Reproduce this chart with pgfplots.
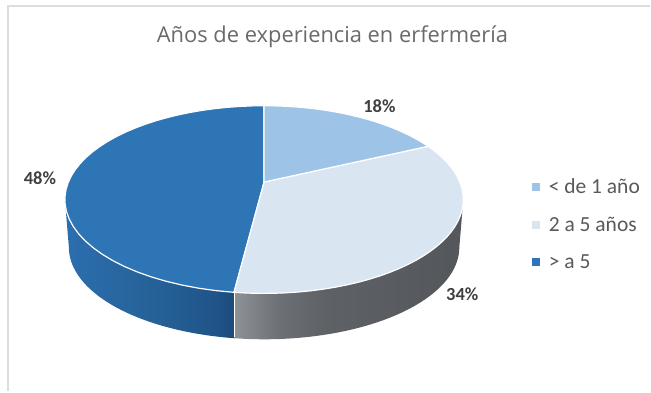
\documentclass[border=0pt]{standalone}
\usepackage{pgfplots}
\pgfplotsset{compat=1.18}
\usepackage{fontspec}
\setmainfont{Carlito}
\newfontfamily\titlefont{Open Sans}

% Shares of the pie, in percent
\def\shareA{18}
\def\shareB{34}
\def\shareC{48}

\definecolor{sliceA}{HTML}{9DC3E6}
\definecolor{sliceB}{HTML}{DAE5F2}
\definecolor{sliceC}{HTML}{2E75B6}
\definecolor{titlegray}{HTML}{6A6A6A}
\definecolor{labelgray}{HTML}{404040}
\definecolor{legendgray}{HTML}{595959}
\definecolor{framegray}{HTML}{DDDDDD}
\definecolor{sideA}{HTML}{2B6EAF}
\definecolor{sideB}{HTML}{266298}
\definecolor{sideC}{HTML}{1F5488}
\definecolor{sideD}{HTML}{1B4A78}
\definecolor{greyA}{HTML}{8E9196}
\definecolor{greyB}{HTML}{6C6F73}
\definecolor{greyC}{HTML}{5E6165}
\definecolor{greyD}{HTML}{53565A}

% Side walls of the disc: horizontal gradients (colours run from 25bp to 75bp)
\pgfdeclarehorizontalshading{sideblue}{100bp}{
  color(0bp)=(sideA); color(25bp)=(sideA); color(50bp)=(sideB); color(70bp)=(sideC); color(75bp)=(sideD); color(100bp)=(sideD)}
\pgfdeclarehorizontalshading{sidegrey}{100bp}{
  color(0bp)=(greyA); color(25bp)=(greyA); color(35bp)=(greyB); color(45bp)=(greyC); color(75bp)=(greyD); color(100bp)=(greyD)}

% Perspective disc: angle t runs clockwise from the top of the rim.
% \rimpoint{t}{scale}{y of centre} appends one point of the rim to \pts.
\def\persp{0.187}
\newcommand\rimpoint[3]{%
  \pgfmathsetmacro\px{264.5+#2*196*sin(#1)/(1+\persp*cos(#1))}%
  \pgfmathsetmacro\py{#3-#2*90.7*cos(#1)/(1+\persp*cos(#1))}%
  \xdef\pts{\pts (\px,\py)}}
% \rimarc{from}{to}{scale}{y of centre} appends 41 points from one angle to another
\newcommand\rimarc[4]{%
  \pgfmathsetmacro\stp{(#2-#1)/40}%
  \foreach \i in {0,...,40}{%
    \pgfmathsetmacro\ang{#1+\i*\stp}%
    \rimpoint{\ang}{#3}{#4}}}
\def\drawpts#1#2{\addplot[#2] coordinates {#1};}

\pgfmathsetmacro\angA{3.6*\shareA}
\pgfmathsetmacro\angB{\angA+3.6*\shareB}
\def\leftrim{259.2}
\def\rightrim{100.8}

% Top faces
\gdef\pts{(264.5,182.3)}\rimarc{0}{\angA}{1}{182.3}\xdef\topA{\pts (264.5,182.3)}
\gdef\pts{(264.5,182.3)}\rimarc{\angA}{\angB}{1}{182.3}\xdef\topB{\pts (264.5,182.3)}
\gdef\pts{(264.5,182.3)}\rimarc{\angB}{360}{1}{182.3}\xdef\topC{\pts (264.5,182.3)}
% Side walls: along the upper rim, then back along the lower rim
\gdef\pts{}\rimarc{\leftrim}{\angB}{1}{182.3}\rimarc{\angB}{\leftrim}{0.98}{230.5}\xdef\wallC{\pts}
\gdef\pts{}\rimarc{\angB}{\rightrim}{1}{182.3}\rimarc{\rightrim}{\angB}{0.98}{230.5}\xdef\wallB{\pts}

\begin{document}
\begin{tikzpicture}
\begin{axis}[
  width=651bp, height=392bp, scale only axis,
  xmin=0, xmax=651, ymin=0, ymax=392, y dir=reverse,
  axis lines=none, clip=false,
  legend cell align=left,
  legend style={at={(axis cs:532.5,177)}, anchor=north west, draw=none, fill=none,
    font=\fontsize{21.5bp}{24bp}\selectfont\color{legendgray},
    row sep=17.7bp, inner sep=0pt,
    /tikz/every odd column/.append style={column sep=8bp}},
]
% keeps the page at the full extent of the chart
\addplot[draw=none, forget plot] coordinates {(0,0) (651,392)};
% outer frame of the chart area
\addplot[framegray, line width=2bp, forget plot] coordinates {(8,392) (8,6) (651,6)};

\expandafter\drawpts\expandafter{\wallC}{shading=sideblue, draw=none, forget plot, mark=none}
\expandafter\drawpts\expandafter{\wallB}{shading=sidegrey, draw=none, forget plot, mark=none}
\addplot[white, line width=1.2bp, forget plot] coordinates {(234.5,292) (234.5,338)};

\expandafter\drawpts\expandafter{\topC}{fill=sliceC, draw=white, line width=1.2bp, forget plot, mark=none}
\expandafter\drawpts\expandafter{\topB}{fill=sliceB, draw=white, line width=1.2bp, forget plot, mark=none}
\expandafter\drawpts\expandafter{\topA}{fill=sliceA, draw=white, line width=1.2bp, forget plot, mark=none}

\addlegendimage{only marks, mark=square*, mark size=3.5bp, color=sliceA, mark options={fill=sliceA, draw=sliceA}}\addlegendentry{< de 1 año}
\addlegendimage{only marks, mark=square*, mark size=3.5bp, color=sliceB, mark options={fill=sliceB, draw=sliceB}}\addlegendentry{2 a 5 años}
\addlegendimage{only marks, mark=square*, mark size=3.5bp, color=sliceC, mark options={fill=sliceC, draw=sliceC}}\addlegendentry{> a 5}

\node[font=\titlefont\fontsize{21.9bp}{25bp}\selectfont, text=titlegray] at (axis cs:333,37) {Años de experiencia en erfermería};
\node[font=\fontsize{18.5bp}{20bp}\selectfont\bfseries, text=labelgray] at (axis cs:380,106) {\shareA\%};
\node[font=\fontsize{18.5bp}{20bp}\selectfont\bfseries, text=labelgray] at (axis cs:463,295) {\shareB\%};
\node[font=\fontsize{18.5bp}{20bp}\selectfont\bfseries, text=labelgray] at (axis cs:40,178) {\shareC\%};
\end{axis}
\end{tikzpicture}
\end{document}
